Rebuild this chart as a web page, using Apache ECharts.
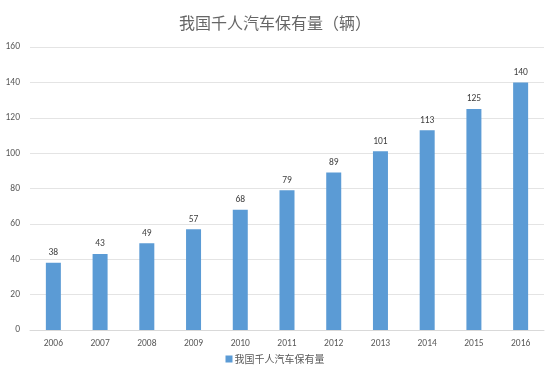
<!DOCTYPE html>
<html><head><meta charset="utf-8">
<script src="https://cdn.jsdelivr.net/npm/echarts@6/dist/echarts.min.js"></script>
<style>html,body{margin:0;padding:0;background:#fff}#c{width:550px;height:371px}</style>
</head><body><div id="c"></div>
<script>
const categories = ['2006','2007','2008','2009','2010','2011','2012','2013','2014','2015','2016'];
const values = [38,43,49,57,68,79,89,101,113,125,140];
const seriesName = '我国千人汽车保有量';
const titleText = '我国千人汽车保有量（辆）';
const numFont = 'Carlito, Calibri, "Open Sans", sans-serif';
const chart = echarts.init(document.getElementById('c'));
chart.setOption({
  animation: false,
  title: {text: titleText, left: 'center', top: 10,
    textStyle: {fontFamily: 'Noto Sans CJK SC', fontWeight: 'normal', fontSize: 16, color: '#666666'}},
  legend: {bottom: 2, left: 'center', itemWidth: 7, itemHeight: 7, icon: 'rect', itemGap: 4,
    textStyle: {fontFamily: 'Noto Sans CJK SC', fontSize: 10, color: '#595959', padding: [0,0,0,-3]}},
  grid: {left: 30, right: 6, top: 47, bottom: 41, containLabel: false},
  xAxis: {type: 'category', data: categories,
    axisLine: {lineStyle: {color: '#D9D9D9'}}, axisTick: {show: false},
    axisLabel: {color: '#595959', fontSize: 9.5, margin: 9, fontFamily: numFont}},
  yAxis: {type: 'value', min: 0, max: 160, interval: 20,
    axisLine: {show: false}, axisTick: {show: false},
    splitLine: {lineStyle: {color: '#E4E4E4'}},
    axisLabel: {color: '#595959', fontSize: 9.5, margin: 10, fontFamily: numFont}},
  series: [{name: seriesName, type: 'bar', data: values, barWidth: 15,
    itemStyle: {color: '#5B9BD5'},
    label: {show: true, position: 'top', color: '#404040', fontSize: 9.5, distance: 5,
      fontFamily: numFont}}]
});
</script></body></html>
